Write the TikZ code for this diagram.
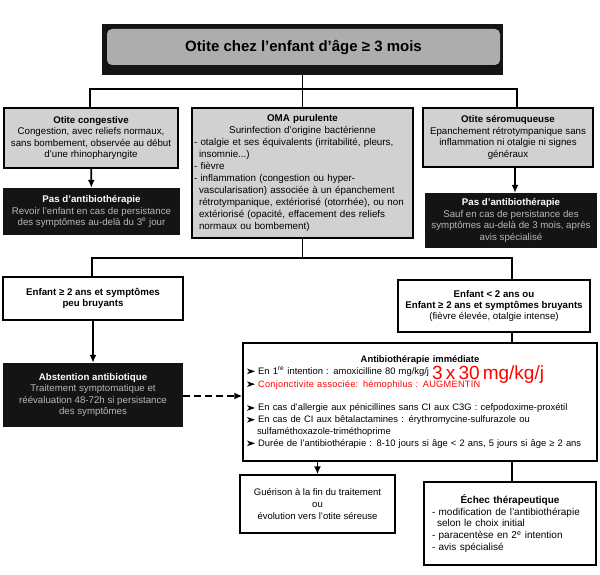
\documentclass[tikz,border=0pt]{standalone}
\usepackage{fontspec}
\setmainfont{Liberation Sans}
\newfontfamily\rotfont[LetterSpace=3]{Liberation Sans}
\usetikzlibrary{arrows.meta}

\newcommand\Pfeil{\tikz[x=1pt,y=1pt,baseline=-3pt]\fill (0,2.8) -- (8,0) -- (0,-2.8) -- (2.2,0) -- cycle;\ }
\newcommand\Einr{\hspace*{5pt}}

\begin{document}
\begin{tikzpicture}[x=1pt,y=-1pt,
  font=\fontsize{9.7}{11.4}\selectfont,
  kasten/.style={draw, line width=1.3pt, align=center, inner sep=2pt},
  grau/.style={kasten, fill=black!18},
  weiss/.style={kasten, fill=white},
  schwarz/.style={fill=black!92, text=black!28, align=center, inner sep=2pt},
  linie/.style={line width=1.8pt},
  pfeil/.style={linie, -{Latex[length=8pt,width=7pt]}},
]

\useasboundingbox (0,0) rectangle (600,575);

% Titel
\node[fill=black!92, minimum width=401pt, minimum height=51pt] at (302.5,49.5) (titelrahmen) {};
\node[fill=black!32, rounded corners=5pt, minimum width=393pt, minimum height=36pt,
  font=\bfseries\fontsize{15}{17}\selectfont] at (303.5,47) (titel) {Otite chez l'enfant d'âge ≥ 3 mois};

% Drei Formen der Otite
\node[grau, minimum width=174pt, minimum height=60pt] at (91,138) (kongestiv)
  {\textbf{Otite congestive}\\Congestion, avec reliefs normaux,\\sans bombement, observée au début\\d’une rhinopharyngite};
\node[grau, minimum width=221pt, minimum height=130pt, text width=217pt, align=left,
  font=\fontsize{9.8}{11.9}\selectfont] at (302.5,173) (oma)
  {{\centering\textbf{OMA purulente}\\Surinfection d’origine bactérienne\par}
  - otalgie et ses équivalents (irritabilité, pleurs,\\
  \Einr insomnie...)\\
  - fièvre\\
  - inflammation (congestion ou hyper-\\
  \Einr vascularisation) associée à un épanchement\\
  \Einr rétrotympanique, extériorisé (otorrhée), ou non\\
  \Einr extériorisé (opacité, effacement des reliefs\\
  \Einr normaux ou bombement)};
\node[grau, minimum width=170pt, minimum height=59pt] at (508,137.5) (sero)
  {\textbf{Otite séromuqueuse}\\Epanchement rétrotympanique sans\\inflammation ni otalgie ni signes\\généraux};

% Keine Antibiose
\node[schwarz, minimum width=177pt, minimum height=47pt] at (91.5,211.5) (pasG)
  {\textcolor{white}{\textbf{Pas d’antibiothérapie}}\\Revoir l’enfant en cas de persistance\\des symptômes au-delà du 3\textsuperscript{e} jour};
\node[schwarz, minimum width=172pt, minimum height=55pt] at (511,220.5) (pasD)
  {\textcolor{white}{\textbf{Pas d’antibiothérapie}}\\Sauf en cas de persistance des\\symptômes au-delà de 3 mois, après\\avis spécialisé};

% Alter und Symptome
\node[weiss, minimum width=180pt, minimum height=43pt] at (93,298.5) (peuBruyant)
  {\textbf{Enfant ≥ 2 ans et symptômes}\\\textbf{peu bruyants}};
\node[weiss, minimum width=192pt, minimum height=52pt] at (494,306) (bruyant)
  {\textbf{Enfant < 2 ans ou}\\\textbf{Enfant ≥ 2 ans et symptômes bruyants}\\(fièvre élevée, otalgie intense)};

\node[schwarz, minimum width=180pt, minimum height=64pt] at (93,395) (abstention)
  {\textcolor{white}{\textbf{Abstention antibiotique}}\\Traitement symptomatique et\\réévaluation 48-72h si persistance\\des symptômes};

\node[weiss, minimum width=354pt, minimum height=118pt, text width=346pt, align=left,
  font=\fontsize{9.4}{11.8}\selectfont] at (420,402) (antibio)
  {{\centering\textbf{Antibiothérapie immédiate}\par}
  \Pfeil En 1\textsuperscript{re} intention : amoxicilline 80 mg/kg/j
    \rlap{\smash{\raisebox{-5pt}{\textcolor{red}{\fontsize{19}{19}\selectfont 3 x 30 mg/kg/j}}}}\\[1pt]
  \Pfeil \textcolor{red}{\rotfont\fontsize{9.2}{11}\selectfont Conjonctivite associée: hémophilus : AUGMENTIN}\\[12pt]
  \Pfeil En cas d’allergie aux pénicillines sans CI aux C3G : cefpodoxime-proxétil\\
  \Pfeil En cas de CI aux bêtalactamines : érythromycine-sulfurazole ou\\
  \Einr\Einr sulfaméthoxazole-triméthoprime\\
  \Pfeil Durée de l’antibiothérapie : 8-10 jours si âge < 2 ans, 5 jours si âge ≥ 2 ans};

% Verlauf
\node[weiss, minimum width=155pt, minimum height=58pt, font=\fontsize{9.5}{12}\selectfont] at (317.5,504) (guerison)
  {Guérison à la fin du traitement\\ou\\évolution vers l’otite séreuse};
\node[weiss, minimum width=172pt, minimum height=83pt, text width=156pt, align=left,
  font=\fontsize{10}{11.8}\selectfont] at (510,523.5) (echec)
  {{\centering\textbf{Échec thérapeutique}\par}
  - modification de l’antibiothérapie\\
  \Einr selon le choix initial\\
  - paracentèse en 2\textsuperscript{e} intention\\
  - avis spécialisé};

% Verbindungen
\coordinate (gabelA) at (302.5,89);
\coordinate (gabelB) at (302.5,258);
\path[linie] (titelrahmen.south) edge (oma.north);
\draw[linie] ([xshift=-1pt]kongestiv.north) |- (gabelA) -| ([xshift=9pt]sero.north);
\path[pfeil] (kongestiv) edge (pasG);
\path[pfeil] ([xshift=7pt]sero.south) edge ([xshift=7pt]sero.south |- pasD.north);

\draw[linie] (oma.south) -- (gabelB);
\draw[linie] ([xshift=-1pt]peuBruyant.north) |- (gabelB) -| ([xshift=18pt]bruyant.north);
\path[pfeil] (peuBruyant) edge (abstention);
\path[linie] ([xshift=18pt]bruyant.south) edge ([xshift=18pt]bruyant.south |- antibio.north);
\path[pfeil, dash pattern=on 7pt off 4pt] ([yshift=-1pt]abstention.east) edge ([yshift=-1pt]abstention.east -| antibio.west);

\path[pfeil] (antibio.south -| guerison.north) edge (guerison.north);
\path[linie] ([xshift=2pt]echec.north |- antibio.south) edge ([xshift=2pt]echec.north);

\end{tikzpicture}
\end{document}
